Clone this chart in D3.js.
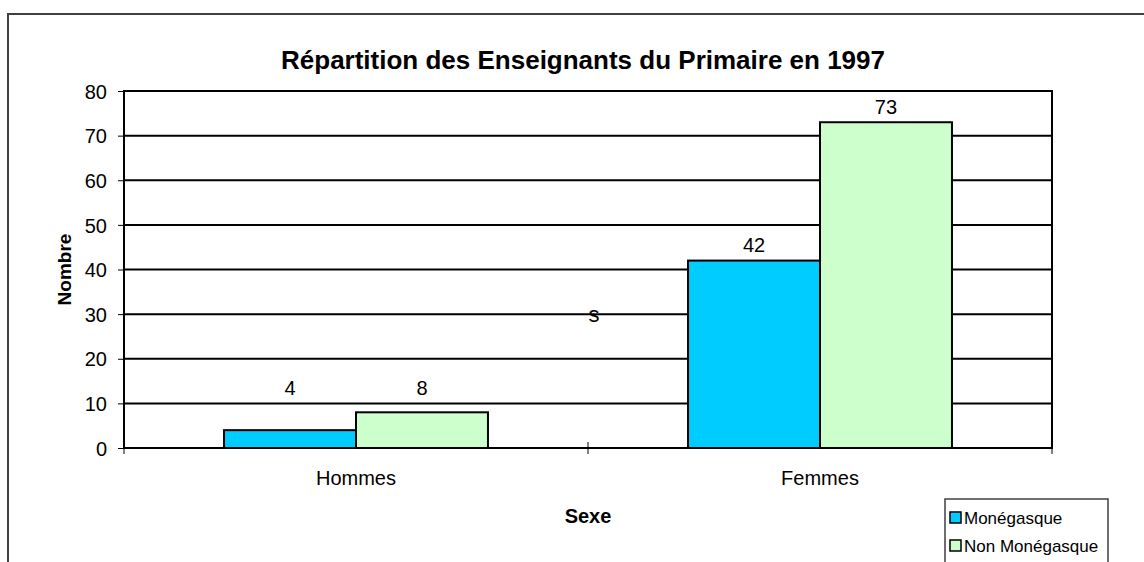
<!DOCTYPE html>
<meta charset="utf-8">
<script src="https://d3js.org/d3.v7.min.js"></script>
<style>
  body { margin: 0; background: #fff; }
  text { font-family: "Liberation Sans", Arial, sans-serif; fill: #000; }
</style>
<div id="chart"></div>
<script>
// data
var categories = ["Hommes", "Femmes"];
var seriesNames = ["Monégasque", "Non Monégasque"];
var monegasque = [4, 42];
var nonMonegasque = [8, 73];
var yTicks = [0, 10, 20, 30, 40, 50, 60, 70, 80];
var colors = ["#00ccff", "#ccffcc"];

var W = 1144, H = 562;
var margin = {top: 91, right: 92, bottom: 114, left: 124},
    width = W - margin.left - margin.right,
    height = H - margin.top - margin.bottom;

var root = d3.select("#chart").append("svg")
    .attr("width", W)
    .attr("height", H);

// outer chart frame (cut off at right and bottom)
root.append("rect")
    .attr("x", 8).attr("y", 14)
    .attr("width", W).attr("height", H)
    .attr("fill", "none")
    .attr("stroke", "#404040")
    .attr("stroke-width", 2);

var svg = root.append("g")
    .attr("transform", "translate(" + margin.left + "," + margin.top + ")");

var x0 = d3.scaleBand()
    .domain(categories)
    .range([0, width])
    .paddingInner(0)
    .paddingOuter(0);

var x1 = d3.scaleBand()
    .domain(seriesNames)
    .range([0, x0.bandwidth()])
    .paddingOuter(0.758);

var y = d3.scaleLinear()
    .domain([0, 80])
    .range([height, 0]);

// gridlines
svg.append("g")
  .selectAll("line")
  .data(yTicks)
  .enter().append("line")
    .attr("x1", 0).attr("x2", width)
    .attr("y1", function(d) { return y(d); })
    .attr("y2", function(d) { return y(d); })
    .attr("stroke", "#000")
    .attr("stroke-width", 2);

// plot frame
svg.append("rect")
    .attr("width", width).attr("height", height)
    .attr("fill", "none")
    .attr("stroke", "#000")
    .attr("stroke-width", 2);

// bars
var rows = categories.map(function(c, i) {
  return [
    {cat: c, name: seriesNames[0], value: monegasque[i], color: colors[0]},
    {cat: c, name: seriesNames[1], value: nonMonegasque[i], color: colors[1]}
  ];
});

var groups = svg.selectAll(".grp")
  .data(rows)
  .enter().append("g")
    .attr("transform", function(d, i) { return "translate(" + x0(categories[i]) + ",0)"; });

groups.selectAll("rect")
  .data(function(d) { return d; })
  .enter().append("rect")
    .attr("x", function(d) { return x1(d.name); })
    .attr("y", function(d) { return y(d.value); })
    .attr("width", x1.bandwidth())
    .attr("height", function(d) { return height - y(d.value); })
    .attr("fill", function(d) { return d.color; })
    .attr("stroke", "#000")
    .attr("stroke-width", 2);

groups.selectAll(".lbl")
  .data(function(d) { return d; })
  .enter().append("text")
    .attr("x", function(d) { return x1(d.name) + x1.bandwidth() / 2; })
    .attr("y", function(d) { return y(Math.max(d.value, 10)) - 8.5; })
    .attr("text-anchor", "middle")
    .style("font-size", "20px")
    .text(function(d) { return d.value; });

// y axis
var yAxis = svg.append("g")
    .call(d3.axisLeft(y).tickValues(yTicks).tickSize(6).tickPadding(11));
yAxis.select(".domain").remove();
yAxis.selectAll(".tick line").attr("stroke", "#000");
yAxis.selectAll("text")
    .attr("dy", "0.36em")
    .style("font-size", "20px")
    .style("font-family", "'Liberation Sans', Arial, sans-serif");

// x axis (ticks at category boundaries, crossing the axis)
var xAxis = svg.append("g")
    .attr("transform", "translate(0," + height + ")");
xAxis.selectAll("line")
  .data([0, 1, 2])
  .enter().append("line")
    .attr("x1", function(d) { return d * x0.bandwidth(); })
    .attr("x2", function(d) { return d * x0.bandwidth(); })
    .attr("y1", -6).attr("y2", 6)
    .attr("stroke", "#000");
xAxis.selectAll("text")
  .data(categories)
  .enter().append("text")
    .attr("x", function(d) { return x0(d) + x0.bandwidth() / 2; })
    .attr("y", 37)
    .attr("text-anchor", "middle")
    .style("font-size", "20px")
    .text(function(d) { return d; });

// stray "s" in the middle of the plot
svg.append("text")
    .attr("x", width / 2 + 6)
    .attr("y", y(30) + 8)
    .attr("text-anchor", "middle")
    .style("font-size", "22px")
    .text("s");

// title
root.append("text")
    .attr("x", 583).attr("y", 69)
    .attr("text-anchor", "middle")
    .style("font-size", "26px")
    .style("font-weight", "bold")
    .text("Répartition des Enseignants du Primaire en 1997");

// axis titles
root.append("text")
    .attr("x", margin.left + width / 2).attr("y", 523)
    .attr("text-anchor", "middle")
    .style("font-size", "20px")
    .style("font-weight", "bold")
    .text("Sexe");

root.append("text")
    .attr("transform", "translate(71," + (margin.top + height / 2) + ") rotate(-90)")
    .attr("text-anchor", "middle")
    .style("font-size", "19px")
    .style("font-weight", "bold")
    .text("Nombre");

// legend
var legend = root.append("g").attr("transform", "translate(945,499)");
legend.append("rect")
    .attr("width", 163).attr("height", 80)
    .attr("fill", "#fff")
    .attr("stroke", "#404040")
    .attr("stroke-width", 1.5);
var items = legend.selectAll(".item")
  .data(seriesNames)
  .enter().append("g")
    .attr("transform", function(d, i) { return "translate(5," + (19 + i * 28) + ")"; });
items.append("rect")
    .attr("x", 0).attr("y", -6)
    .attr("width", 11).attr("height", 11)
    .attr("fill", function(d, i) { return colors[i]; })
    .attr("stroke", "#000")
    .attr("stroke-width", 1.5);
items.append("text")
    .attr("x", 14).attr("y", 6)
    .style("font-size", "17px")
    .text(function(d) { return d; });
</script>
